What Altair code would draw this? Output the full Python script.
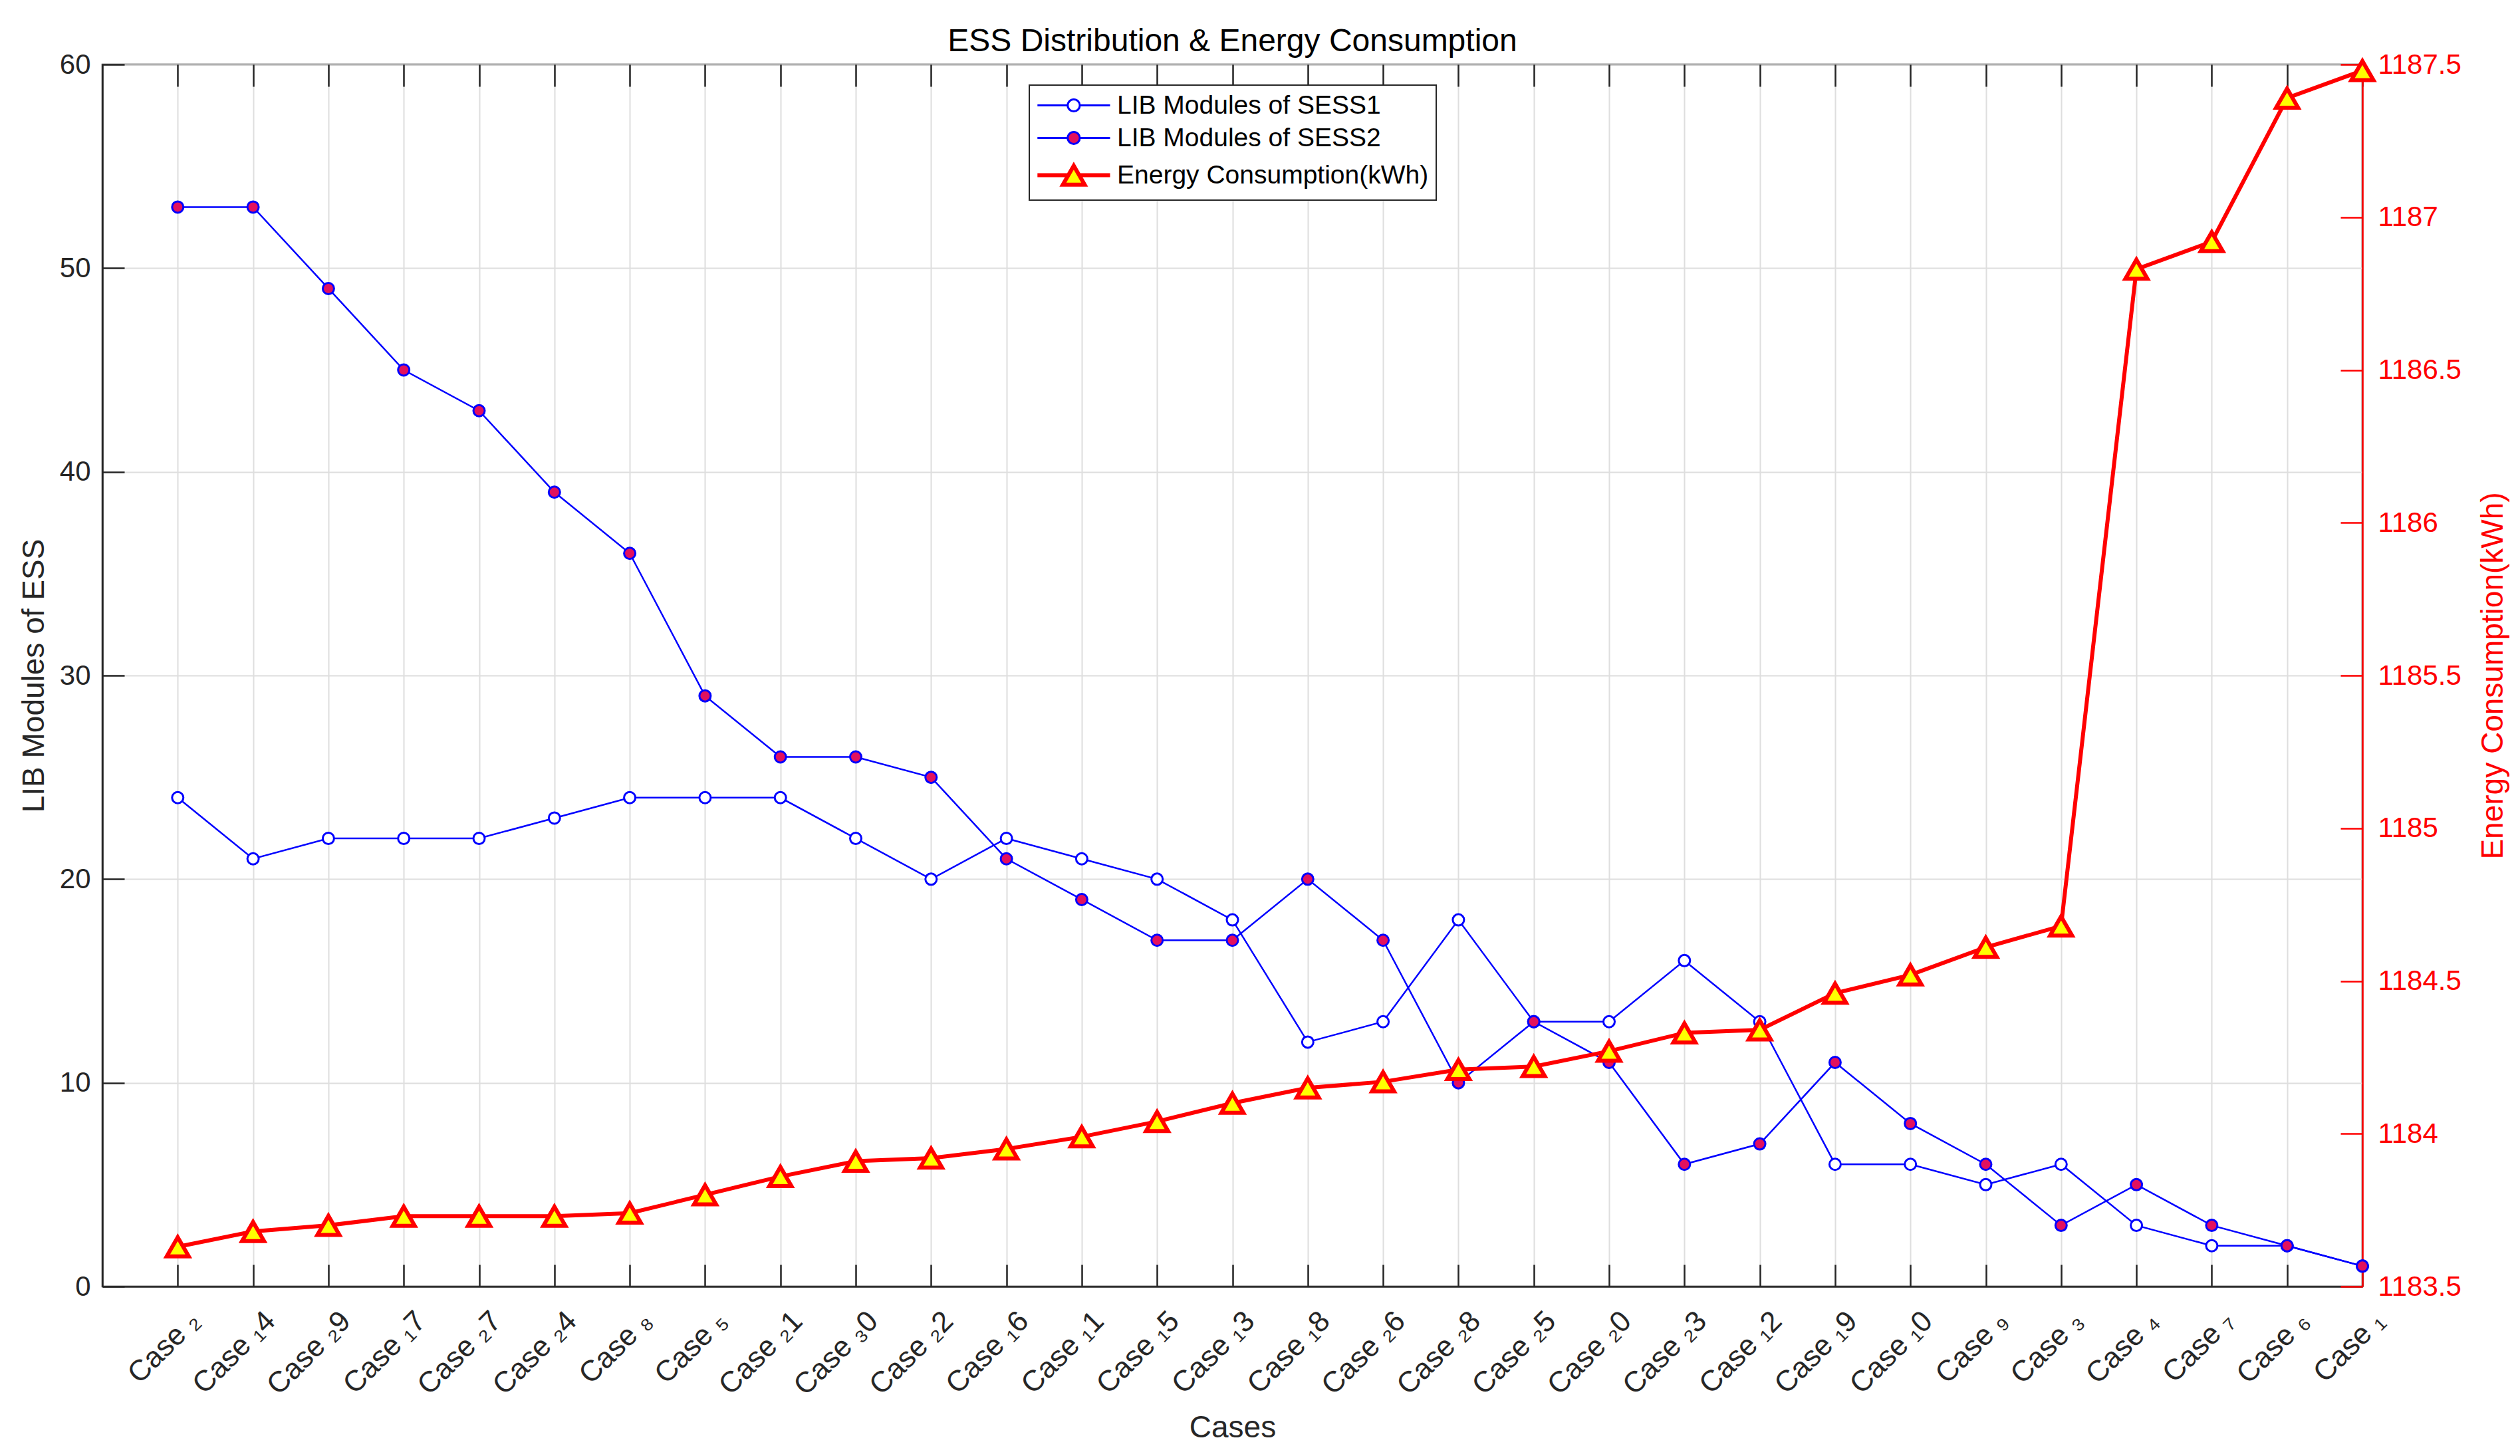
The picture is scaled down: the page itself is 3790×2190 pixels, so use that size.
import json
import altair as alt
import pandas as pd

# ---------------- data ----------------
case_labels = ["Case ₂", "Case ₁4", "Case ₂9", "Case ₁7", "Case ₂7", "Case ₂4", "Case ₈", "Case ₅",
               "Case ₂1", "Case ₃0", "Case ₂2", "Case ₁6", "Case ₁1", "Case ₁5", "Case ₁3", "Case ₁8",
               "Case ₂6", "Case ₂8", "Case ₂5", "Case ₂0", "Case ₂3", "Case ₁2", "Case ₁9", "Case ₁0",
               "Case ₉", "Case ₃", "Case ₄", "Case ₇", "Case ₆", "Case ₁"]
sess1 = [24, 21, 22, 22, 22, 23, 24, 24, 24, 22, 20, 22, 21, 20, 18,
         12, 13, 18, 13, 13, 16, 13, 6, 6, 5, 6, 3, 2, 2, 1]
sess2 = [53, 53, 49, 45, 43, 39, 36, 29, 26, 26, 25, 21, 19, 17, 17,
         20, 17, 10, 13, 11, 6, 7, 11, 8, 6, 3, 5, 3, 2, 1]
energy = [1183.63, 1183.68, 1183.70, 1183.73, 1183.73, 1183.73, 1183.74, 1183.80,
          1183.86, 1183.91, 1183.92, 1183.95, 1183.99, 1184.04, 1184.10, 1184.15,
          1184.17, 1184.21, 1184.22, 1184.27, 1184.33, 1184.34, 1184.46, 1184.52,
          1184.61, 1184.68, 1186.83, 1186.92, 1187.39, 1187.48]
left_ticks = [0, 10, 20, 30, 40, 50, 60]
right_ticks = [1183.5, 1184, 1184.5, 1185, 1185.5, 1186, 1186.5, 1187, 1187.5]
series_names = ["LIB Modules of SESS1", "LIB Modules of SESS2", "Energy Consumption(kWh)"]

# ---------------- styling ----------------
FONT = "Liberation Sans"
DARK = "#262626"
BLUE = "#0000FF"
RED = "#FF0000"
PINK = "#E2115E"
GRID = "#DEDEDE"
W, H = 3399, 1838
TICK = 33

n = len(case_labels)
idx = list(range(1, n + 1))
df1 = pd.DataFrame({"idx": idx, "value": sess1})
df2 = pd.DataFrame({"idx": idx, "value": sess2})
dfe = pd.DataFrame({"idx": idx, "energy": energy})
dfl = pd.DataFrame({"series": series_names})

x_scale = alt.Scale(domain=[0, n], nice=False, zero=False)
yl_scale = alt.Scale(domain=[0, 60], nice=False)
yr_scale = alt.Scale(domain=[1183.5, 1187.5], nice=False, zero=False)

label_expr = json.dumps(case_labels, ensure_ascii=False) + "[datum.value - 1]"

x_main = alt.Axis(
    orient="bottom", values=idx, labelExpr=label_expr, title="Cases",
    grid=True, gridColor=GRID, gridWidth=2, ticks=False,
    domain=True, domainColor=DARK, domainWidth=2.5,
    labelAngle=-45, labelAlign="right", labelBaseline="middle", labelPadding=45, labelOffset=26,
    labelFont=FONT, labelFontSize=44, labelColor=DARK, labelFlush=False, labelOverlap=False,
    labelBound=False,
    titleFont=FONT, titleFontSize=46, titleFontWeight="normal", titleColor=DARK,
    titlePadding=39, minExtent=151, maxExtent=151,
)
y_left_main = alt.Axis(
    orient="left", values=left_ticks, title="LIB Modules of ESS",
    grid=True, gridColor=GRID, gridWidth=2, ticks=False,
    domain=True, domainColor=DARK, domainWidth=2.5,
    labelFont=FONT, labelFontSize=42, labelColor=DARK, labelPadding=18,
    titleFont=FONT, titleFontSize=46, titleFontWeight="normal", titleColor=DARK,
    titlePadding=14, minExtent=65, maxExtent=65,
)
y_right_main = alt.Axis(
    orient="right", values=right_ticks, format="~g", title="Energy Consumption(kWh)",
    grid=False, ticks=False, domain=True, domainColor=RED, domainWidth=2.5,
    labelFont=FONT, labelFontSize=42, labelColor=RED, labelPadding=23,
    titleFont=FONT, titleFontSize=46, titleFontWeight="normal", titleColor=RED,
    titleAngle=270, titleBaseline="top",
    titlePadding=23, minExtent=151, maxExtent=151,
)


def tick_axis(orient, values, color):
    return alt.Axis(orient=orient, values=values, labels=False, domain=False, grid=False,
                    ticks=True, tickSize=TICK, tickColor=color, tickWidth=2.5,
                    offset=-TICK, title=None, minExtent=0, maxExtent=0)


def xenc(axis=None):
    return alt.X("idx:Q", scale=x_scale, axis=axis, title=None)


sess1_line = alt.Chart(df1).mark_line(color=BLUE, strokeWidth=2.5).encode(
    x=xenc(x_main), y=alt.Y("value:Q", scale=yl_scale, axis=y_left_main))
sess1_pts = alt.Chart(df1).mark_point(
    shape="circle", filled=True, fill="white", stroke=BLUE, strokeWidth=3, size=289, opacity=1
).encode(x=xenc(), y=alt.Y("value:Q", scale=yl_scale, axis=None))
sess2_line = alt.Chart(df2).mark_line(color=BLUE, strokeWidth=2.5).encode(
    x=xenc(), y=alt.Y("value:Q", scale=yl_scale, axis=None))
sess2_pts = alt.Chart(df2).mark_point(
    shape="circle", filled=True, fill=PINK, stroke=BLUE, strokeWidth=3, size=289, opacity=1
).encode(x=xenc(), y=alt.Y("value:Q", scale=yl_scale, axis=None))
energy_line = alt.Chart(dfe).mark_line(color=RED, strokeWidth=6).encode(
    x=xenc(), y=alt.Y("energy:Q", scale=yr_scale, axis=y_right_main))
energy_pts = alt.Chart(dfe).mark_point(
    shape="triangle-up", filled=True, fill="yellow", stroke=RED, strokeWidth=6, size=1100, opacity=1
).encode(x=xenc(), y=alt.Y("energy:Q", scale=yr_scale, axis=None))

# inward tick marks (MATLAB style)
tick_xb = alt.Chart(df1).mark_point(opacity=0).encode(x=xenc(tick_axis("bottom", idx, DARK)))
tick_xt = alt.Chart(df1).mark_point(opacity=0).encode(x=xenc(tick_axis("top", idx, DARK)))
tick_yl = alt.Chart(df1).mark_point(opacity=0).encode(
    y=alt.Y("value:Q", scale=yl_scale, axis=tick_axis("left", left_ticks, DARK)))
tick_yr = alt.Chart(dfe).mark_point(opacity=0).encode(
    y=alt.Y("energy:Q", scale=yr_scale, axis=tick_axis("right", right_ticks, RED)))

# legend (line + marker symbols)
p_circ = "M-1,0L1.5,0M2.5,0L5,0M1.5,0A0.5,0.5,0,1,1,2.5,0A0.5,0.5,0,1,1,1.5,0Z"
p_tri = "M-1,0L1.55,0M2.45,0L5,0M2,-0.78L2.9,0.78L1.1,0.78Z"
leg = alt.Legend(
    title=None, orient="none", legendX=1394, legendY=31,
    symbolSize=1325, labelOffset=82, padding=11, rowPadding=9,
    labelFont=FONT, labelFontSize=39, labelColor="#000000", labelLimit=2000,
    strokeColor=DARK, fillColor="white",
    symbolStrokeWidth={"expr": "datum.value === 'Energy Consumption(kWh)' ? 6 : 3"},
)
legend_layer = alt.Chart(dfl).transform_filter("datum.series == 'none'").mark_point(
    filled=True, opacity=1
).encode(
    shape=alt.Shape("series:N", scale=alt.Scale(domain=series_names, range=[p_circ, p_circ, p_tri]), legend=leg),
    fill=alt.Fill("series:N", scale=alt.Scale(domain=series_names, range=["white", PINK, "yellow"]), legend=leg),
    stroke=alt.Stroke("series:N", scale=alt.Scale(domain=series_names, range=[BLUE, BLUE, RED]), legend=leg),
)

chart = alt.layer(
    sess1_line, sess1_pts, sess2_line, sess2_pts, energy_line, energy_pts,
    tick_xb, tick_xt, tick_yl, tick_yr, legend_layer
).resolve_scale(y="independent").resolve_axis(x="independent", y="independent").properties(
    width=W, height=H,
    padding={"left": 20, "right": 10, "top": 31, "bottom": 14},
    title=alt.Title("ESS Distribution & Energy Consumption", font=FONT, fontSize=48,
                    fontWeight="normal", color="#000000", baseline="alphabetic",
                    offset=-49, anchor="middle"),
).configure_view(stroke=DARK, strokeWidth=2.5).configure_legend(strokeWidth=2)

chart.save("out.html", embed_options={"renderer": "svg", "actions": False})
